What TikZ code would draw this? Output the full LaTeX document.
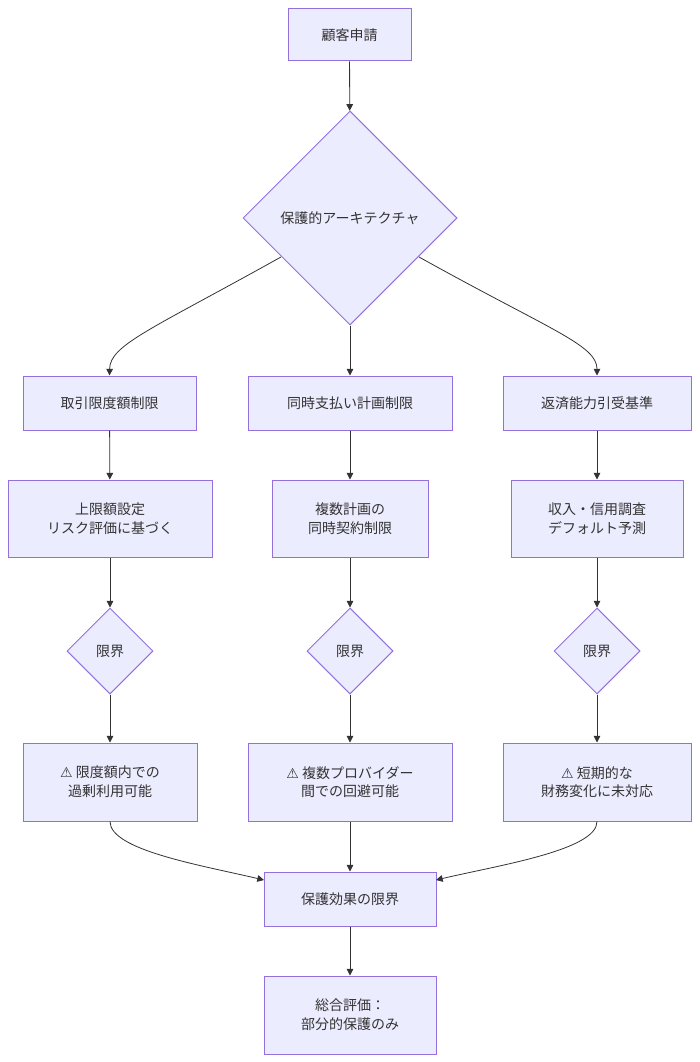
\documentclass[tikz,border=0pt]{standalone}
\usepackage{fontspec}
\setmainfont{Noto Sans CJK JP}
\newfontfamily\djsym{DejaVu Sans}
\usetikzlibrary{shapes.geometric,arrows.meta}
\definecolor{nf}{HTML}{ECECFF}
\definecolor{ns}{HTML}{9370DB}
\definecolor{tx}{HTML}{333333}
\begin{document}
\begin{tikzpicture}[x=0.75pt,y=-0.75pt,
  box/.style={draw=ns,fill=nf,text=tx,font=\fontsize{10.5}{14}\selectfont,align=center,inner sep=0pt,line width=0.75pt},
  dia/.style={draw=ns,fill=nf,text=tx,diamond,font=\fontsize{10.5}{14}\selectfont,inner sep=0pt,line width=0.75pt},
  ar/.style={draw=tx,line width=0.6pt,-{Triangle[length=5pt,width=5pt]}}]
\useasboundingbox (0,0) rectangle (699,1062);
\newcommand{\bx}[6]{\node[box,minimum width={(#3-#2)*0.75pt},minimum height={(#5-#4)*0.75pt}] (#1) at ({(#2+#3)/2},{(#4+#5)/2}) {#6};}
\bx{a}{288}{411}{9}{61}{顧客申請}
\node[dia,minimum width=160.5pt,minimum height=160.5pt] (d) at (350,218) {保護的アーキテクチャ};
\bx{b1}{23}{196}{376}{430}{取引限度額制限}
\bx{b2}{248}{452}{376}{430}{同時支払い計画制限}
\bx{b3}{503}{691}{376}{430}{返済能力引受基準}
\bx{c1}{8}{212}{480}{557}{上限額設定\\リスク評価に基づく}
\bx{c2}{272}{428}{480}{557}{複数計画の\\同時契約制限}
\bx{c3}{511}{683}{480}{557}{収入・信用調査\\デフォルト予測}
\node[dia,minimum width=64.5pt,minimum height=64.5pt] (e1) at (110,651) {限界};
\node[dia,minimum width=64.5pt,minimum height=64.5pt] (e2) at (350,651) {限界};
\node[dia,minimum width=64.5pt,minimum height=64.5pt] (e3) at (597,651) {限界};
\bx{f1}{23}{197}{743}{821}{{\djsym ⚠} 限度額内での\\過剰利用可能}
\bx{f2}{248}{452}{743}{821}{{\djsym ⚠} 複数プロバイダー\\間での回避可能}
\bx{f3}{503}{691}{743}{821}{{\djsym ⚠} 短期的な\\財務変化に未対応}
\bx{g}{264}{436}{872}{926}{保護効果の限界}
\bx{h}{264}{436}{976}{1054}{総合評価：\\部分的保護のみ}
\coordinate (gl) at (264,880);
\coordinate (gr) at (436,880);
\draw[ar] (a) -- (d);
\draw[ar] (d) -- (b2);
\draw[ar] (281,257) .. controls (150,330) and (110,345) .. (b1.north);
\draw[ar] (419,257) .. controls (550,330) and (597,345) .. (b3.north);
\foreach \i in {1,2,3}{
 \draw[ar] (b\i) -- (c\i);
 \draw[ar] (c\i) -- (e\i);
 \draw[ar] (e\i) -- (f\i);}
\draw[ar] (f2) -- (g);
\draw[ar] (f1.south) .. controls (110,850) and (200,865) .. (gl);
\draw[ar] (f3.south) .. controls (597,850) and (500,865) .. (gr);
\draw[ar] (g) -- (h);
\end{tikzpicture}
\end{document}
